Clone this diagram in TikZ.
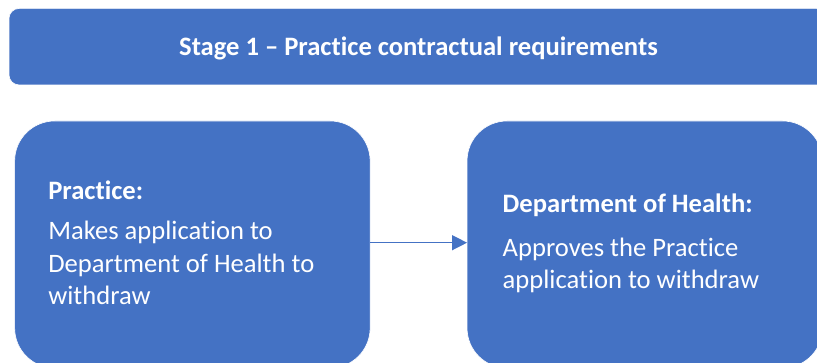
\documentclass[tikz,border=0pt]{standalone}
\usepackage{fontspec}
\setmainfont{Carlito}[Ligatures=NoCommon]
\usetikzlibrary{arrows.meta}
\definecolor{officeblue}{HTML}{4472C4}
\begin{document}
\begin{tikzpicture}[x=1pt,y=-1pt,
  panel/.style={fill=officeblue,draw=white,line width=0.6pt,inner sep=0pt,outer sep=0pt},
  txt/.style={text=white,inner sep=0pt,outer sep=0pt,anchor=base west,font=\fontsize{26.6}{32.5}\selectfont},
  boldtxt/.style={txt,font=\fontsize{26.6}{32.5}\selectfont\bfseries},
  link/.style={draw=officeblue,line width=1.3pt,-{Triangle[length=15pt,width=15pt]}}]
\useasboundingbox (0,0) rectangle (817,363);
% banner
\node[panel,rounded corners=10pt,minimum width=818pt,minimum height=76.5pt] (banner) at (418,46.7) {};
\node[boldtxt,anchor=base] (bannertxt) at (418.5,55.7) {Stage 1 – Practice contractual requirements};
% boxes
\node[panel,rounded corners=40pt,minimum width=355.5pt,minimum height=247pt] (lbox) at (192.4,244.5) {};
\node[panel,rounded corners=40pt,minimum width=355.5pt,minimum height=247pt] (rbox) at (644.8,244.5) {};
% left text
\node[boldtxt] (lhead) at (48.3,200) {Practice:};
\node[txt] (lline1) at (48.3,240) {Makes application to};
\node[txt] (lline2) at (48.3,272.5) {Department of Health to};
\node[txt] (lline3) at (48.3,305) {withdraw};
% right text
\node[boldtxt] (rhead) at (502.7,213) {Department of Health:};
\node[txt] (rline1) at (502.7,256.5) {Approves the Practice};
\node[txt] (rline2) at (502.7,288.5) {application to withdraw};
% arrow
\coordinate (arry) at (0,242.7);
\draw[link] (lbox.east |- arry) -- (rbox.west |- arry);
\end{tikzpicture}
\end{document}
